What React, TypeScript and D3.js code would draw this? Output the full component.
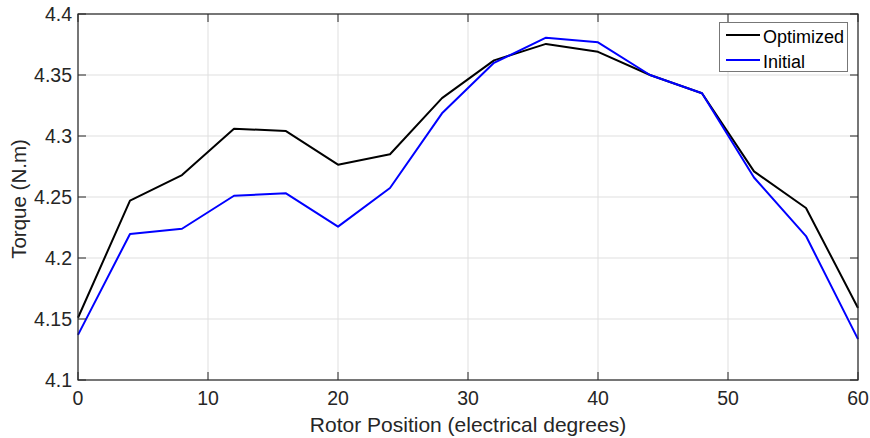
import React from "react";
import * as d3 from "d3";

const positions = [0, 4, 8, 12, 16, 20, 24, 28, 32, 36, 40, 44, 48, 52, 56, 60];
const optimized = [4.151, 4.247, 4.268, 4.306, 4.304, 4.2765, 4.285, 4.331, 4.362, 4.3755, 4.369, 4.35, 4.335, 4.271, 4.241, 4.159];
const initial = [4.137, 4.2197, 4.224, 4.251, 4.253, 4.2257, 4.2574, 4.3186, 4.36, 4.3806, 4.3768, 4.35, 4.335, 4.266, 4.218, 4.1335];
const xTicks = [0, 10, 20, 30, 40, 50, 60];
const yTicks = [4.1, 4.15, 4.2, 4.25, 4.3, 4.35, 4.4];
const seriesNames = ["Optimized", "Initial"];
const seriesColors = ["#000000", "#0000ff"];

const W = 870, H = 438;
const L = 78, R = 858, T = 14, B = 380;
const axisColor = "#262626";
const font = "'Liberation Sans', Arial, sans-serif";

export default function App() {
  const x = d3.scaleLinear().domain([0, 60]).range([L, R]);
  const y = d3.scaleLinear().domain([4.1, 4.4]).range([B, T]);
  const line = d3.line<number>().x((_, i) => x(positions[i])).y((v) => y(v));
  const series = [optimized, initial];
  const tickLen = 8;
  return (
    <svg width={W} height={H} style={{ position: "absolute", left: 0, top: 0 }} fontFamily={font}>
      <rect x={0} y={0} width={W} height={H} fill="#fff" />
      {xTicks.map((t) => (
        <line key={"gx" + t} x1={x(t)} x2={x(t)} y1={T} y2={B} stroke="#dfdfdf" strokeWidth={1} />
      ))}
      {yTicks.map((t) => (
        <line key={"gy" + t} x1={L} x2={R} y1={y(t)} y2={y(t)} stroke="#dfdfdf" strokeWidth={1} />
      ))}
      {series.map((s, k) => (
        <path key={"s" + k} d={line(s) || ""} fill="none" stroke={seriesColors[k]} strokeWidth={2} strokeLinejoin="round" />
      ))}
      <rect x={L} y={T} width={R - L} height={B - T} fill="none" stroke={axisColor} strokeWidth={1.2} />
      {xTicks.map((t) => (
        <g key={"tx" + t}>
          <line x1={x(t)} x2={x(t)} y1={B} y2={B - tickLen} stroke={axisColor} />
          <line x1={x(t)} x2={x(t)} y1={T} y2={T + tickLen} stroke={axisColor} />
          <text x={x(t)} y={B + 25} textAnchor="middle" fontSize={19.5} fill={axisColor}>{t}</text>
        </g>
      ))}
      {yTicks.map((t) => (
        <g key={"ty" + t}>
          <line x1={L} x2={L + tickLen} y1={y(t)} y2={y(t)} stroke={axisColor} />
          <line x1={R} x2={R - tickLen} y1={y(t)} y2={y(t)} stroke={axisColor} />
          <text x={L - 6} y={y(t) + 7} textAnchor="end" fontSize={19.5} fill={axisColor}>{String(t)}</text>
        </g>
      ))}
      <text x={(L + R) / 2} y={432} textAnchor="middle" fontSize={21} fill={axisColor}>Rotor Position (electrical degrees)</text>
      <text transform={`translate(26,${(T + B) / 2 + 2}) rotate(-90)`} textAnchor="middle" fontSize={20.5} fill={axisColor}>Torque (N.m)</text>
      <g>
        <rect x={719.5} y={22.5} width={128} height={49} fill="#fff" stroke="#777" strokeWidth={1} />
        {seriesNames.map((n, k) => (
          <g key={"lg" + k}>
            <line x1={726} x2={760} y1={35 + k * 25} y2={35 + k * 25} stroke={seriesColors[k]} strokeWidth={2} />
            <text x={763} y={42.5 + k * 25} fontSize={18} fill="#000">{n}</text>
          </g>
        ))}
      </g>
    </svg>
  );
}
